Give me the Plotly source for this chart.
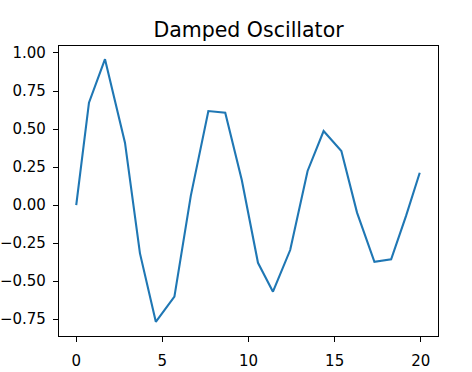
import plotly.graph_objects as go

# Data
x_vals = [0.0, 0.74, 1.67, 2.83, 3.70, 4.62, 5.70, 6.65, 7.67, 8.65, 9.61,
          10.55, 11.42, 12.42, 13.43, 14.36, 15.39, 16.30, 17.31, 18.28, 19.15, 19.94]
y_vals = [0.0, 0.673, 0.959, 0.41, -0.318, -0.768, -0.603, 0.06, 0.618, 0.607, 0.164,
          -0.38, -0.570, -0.296, 0.224, 0.487, 0.355, -0.05, -0.373, -0.357, -0.07, 0.212]
x_ticks = [0, 5, 10, 15, 20]
y_ticks = [-0.75, -0.5, -0.25, 0.0, 0.25, 0.5, 0.75, 1.0]
title_text = "Damped Oscillator"

fig = go.Figure()
fig.add_trace(go.Scatter(x=x_vals, y=y_vals, mode="lines",
                         line=dict(color="#1f77b4", width=2.1)))

font = "DejaVu Sans, Verdana, sans-serif"
fig.update_layout(
    width=472, height=372,
    margin=dict(l=59, r=34, t=46, b=36, autoexpand=False),
    paper_bgcolor="white", plot_bgcolor="white",
    showlegend=False,
    font=dict(family=font, color="black", size=15),
    title=dict(text=title_text, x=0.5, xref="paper", xanchor="center",
               y=1, yref="paper", yanchor="bottom", pad=dict(b=9),
               font=dict(family=font, size=20.5, color="black")),
)
axis_common = dict(showline=True, mirror=True, linecolor="black", linewidth=1.2,
                   ticks="outside", ticklen=5, tickwidth=1.2, tickcolor="black",
                   showgrid=False, zeroline=False, automargin=False,
                   tickfont=dict(family=font, size=15, color="black"))
fig.update_xaxes(range=[-1, 21], tickvals=x_ticks, ticklabelstandoff=6, **axis_common)
fig.update_yaxes(range=[-0.8615, 1.046], tickvals=y_ticks, tickformat=".2f",
                 ticklabelstandoff=4, **axis_common)

fig.write_html("out.html", config={"displayModeBar": False},
               post_script="document.body.style.margin='0';document.body.style.overflow='hidden';")
